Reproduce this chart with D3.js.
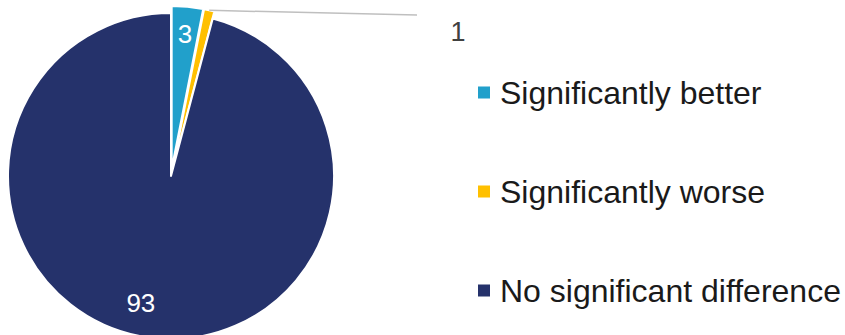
<!DOCTYPE html>
<html>
<head>
<meta charset="utf-8">
<script src="https://cdn.jsdelivr.net/npm/d3@7"></script>
<style>
  html, body { margin: 0; padding: 0; background: #fff; }
  svg { display: block; font-family: "Liberation Sans", Arial, sans-serif; }
</style>
</head>
<body>
<div id="pie-chart"></div>
<script>

// chart data
const categories = ["Significantly better", "Significantly worse", "No significant difference"];
const values = [3, 1, 93];
const colors = ["#21A0CB", "#FFC000", "#25326B"];

const width = 845, height = 335;
const cx = 171, cy = 176, radius = 163;

// how far each slice is pulled out from the centre
const explode = [7, 7, 0];

const svg = d3.select("#pie-chart")
                .append("svg")
                .attr("width", width)
                .attr("height", height)
                .attr("viewBox", [0, 0, width, height]);

const pie = d3.pie()
                .sort(null)
                .value((d) => d);

const arcs = pie(values);

const arc = d3.arc()
                .innerRadius(0)
                .outerRadius(radius);

const midAngle = (d) => (d.startAngle + d.endAngle) / 2;

const g = svg.append("g")
                .attr("transform", `translate(${cx}, ${cy})`);

// Slices, the small ones are pulled out a little
g.selectAll("path")
    .data(arcs)
    .enter()
    .append("path")
    .attr("d", arc)
    .attr("transform", (d, i) => {
        const p = d3.pointRadial(midAngle(d), explode[i]);
        return `translate(${p[0]}, ${p[1]})`;
    })
    .attr("fill", (d, i) => colors[i])
    .attr("stroke", "#fff")
    .attr("stroke-width", 2)
    .attr("stroke-linejoin", "round");

// Labels inside the slices
const inside = [0, 2];
const labelRadius = [143, 130, 130];
const labelShift = [0, 0, 6 * Math.PI / 180];

g.selectAll("text.inside")
    .data(inside)
    .enter()
    .append("text")
    .attr("class", "inside")
    .attr("x", (i) => d3.pointRadial(midAngle(arcs[i]) + labelShift[i], labelRadius[i])[0])
    .attr("y", (i) => d3.pointRadial(midAngle(arcs[i]) + labelShift[i], labelRadius[i])[1])
    .attr("dy", "0.36em")
    .attr("text-anchor", "middle")
    .attr("fill", "#fff")
    .attr("font-size", "26px")
    .text((i) => values[i]);

// Outside label for the tiny slice with a leader line
const small = arcs[1];
const edge = d3.pointRadial(midAngle(small), radius + explode[1]);
const lineEnd = [246, -161];

g.append("line")
    .attr("x1", edge[0])
    .attr("y1", edge[1])
    .attr("x2", lineEnd[0])
    .attr("y2", lineEnd[1])
    .attr("stroke", "#BFBFBF")
    .attr("stroke-width", 1.5);

g.append("text")
    .attr("x", lineEnd[0] + 41)
    .attr("y", lineEnd[1] + 16)
    .attr("dy", "0.36em")
    .attr("text-anchor", "middle")
    .attr("fill", "#404040")
    .attr("font-size", "27px")
    .text(values[1]);

// Legend
const legendY = d3.scalePoint()
                    .domain(categories)
                    .range([92.5, 290.5]);

const legend = svg.selectAll("g.legend")
                    .data(categories)
                    .enter()
                    .append("g")
                    .attr("class", "legend")
                    .attr("transform", (d) => `translate(478, ${legendY(d)})`);

legend.append("rect")
    .attr("x", 0)
    .attr("y", -6)
    .attr("width", 12)
    .attr("height", 12)
    .attr("fill", (d, i) => colors[i]);

legend.append("text")
    .attr("x", 22)
    .attr("y", 0)
    .attr("dy", "0.36em")
    .attr("fill", "#1A1A1A")
    .attr("font-size", "32px")
    .text((d) => d);

</script>
</body>
</html>
